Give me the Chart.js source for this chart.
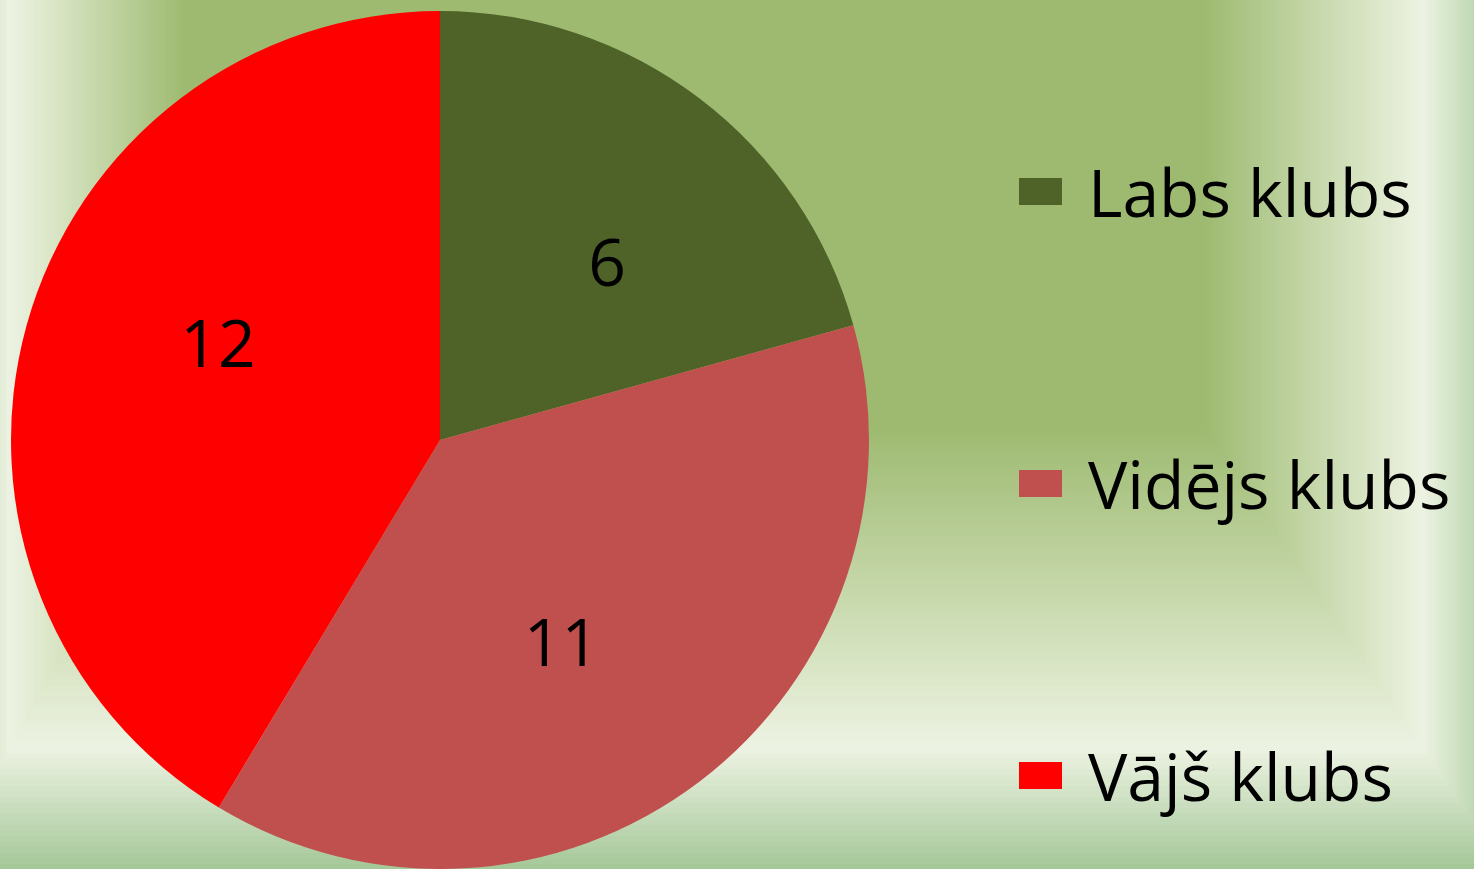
<!DOCTYPE html>
<html>
<head>
<meta charset="utf-8">
<script src="https://cdn.jsdelivr.net/npm/chart.js@4/dist/chart.umd.min.js"></script>
<style>
    html, body { margin: 0; padding: 0; overflow: hidden; }
    #wrap { position: relative; width: 1474px; height: 869px; }
    #pie { position: absolute; left: 0; top: 0; }
    #legend {
        position: absolute; left: 1019px; top: 45px;
        font-family: "Open Sans", sans-serif; font-size: 66px; color: #000;
    }
    .item { height: 292px; display: flex; align-items: center; white-space: nowrap; }
    .box { width: 43px; height: 27px; margin-right: 26px; flex: none; }
</style>
</head>
<body>
<div id="wrap">
    <canvas id="pie" width="1474" height="869"></canvas>
    <div id="legend"></div>
</div>
<script>
const labels = ['Labs klubs', 'Vidējs klubs', 'Vājš klubs'];
const values = [6, 11, 12];
const colors = ['#4F6228', '#C0504D', '#FF0000'];

// fons: taisnstūra gradients kā Office diagrammā
const bgPlugin = {
    id: 'bg',
    beforeDraw(chart) {
        const ctx = chart.ctx;
        const inner = { x0: 185, y0: -10, x1: 1205, y1: 430 };
        const outer = { x0: -60, y0: -200, x1: 1510, y1: 875 };
        const green = [157, 186, 112], light = [237, 243, 226], edge = [162, 198, 150];
        const mix = (a, b, k) => a.map((v, i) => Math.round(v + (b[i] - v) * k));
        const colorAt = t => t < 0.72 ? mix(green, light, t / 0.72) : mix(light, edge, (t - 0.72) / 0.28);
        const N = 80;
        ctx.save();
        for (let i = N; i >= 0; i--) {
            const t = i / N;
            const c = colorAt(t);
            const x0 = inner.x0 + (outer.x0 - inner.x0) * t;
            const y0 = inner.y0 + (outer.y0 - inner.y0) * t;
            const x1 = inner.x1 + (outer.x1 - inner.x1) * t;
            const y1 = inner.y1 + (outer.y1 - inner.y1) * t;
            ctx.fillStyle = `rgb(${c[0]},${c[1]},${c[2]})`;
            ctx.fillRect(x0, y0, x1 - x0, y1 - y0);
        }
        ctx.restore();
    }
};

// vērtību etiķetes sektoros
const valueLabels = {
    id: 'valueLabels',
    afterDatasetsDraw(chart) {
        const ctx = chart.ctx;
        const meta = chart.getDatasetMeta(0);
        ctx.save();
        ctx.font = '66px "Open Sans", sans-serif';
        ctx.fillStyle = '#000';
        ctx.textAlign = 'center';
        ctx.textBaseline = 'middle';
        meta.data.forEach((arc, i) => {
            const p = arc.getProps(['x', 'y', 'startAngle', 'endAngle', 'outerRadius'], true);
            const mid = (p.startAngle + p.endAngle) / 2 + 0.12;
            const r = p.outerRadius * 0.56;
            ctx.fillText(String(values[i]), p.x + Math.cos(mid) * r, p.y + Math.sin(mid) * r);
        });
        ctx.restore();
    }
};

new Chart(document.getElementById('pie'), {
    type: 'pie',
    data: {
        labels: labels,
        datasets: [{
            data: values,
            backgroundColor: colors,
            borderWidth: 0
        }]
    },
    options: {
        responsive: false,
        animation: false,
        layout: { padding: { left: 11, top: 11, right: 605, bottom: 0 } },
        plugins: {
            legend: { display: false },
            tooltip: { enabled: false }
        }
    },
    plugins: [bgPlugin, valueLabels]
});

const legendDiv = document.getElementById('legend');
labels.forEach((lab, i) => {
    const item = document.createElement('div');
    item.className = 'item';
    const box = document.createElement('span');
    box.className = 'box';
    box.style.background = colors[i];
    const txt = document.createElement('span');
    txt.textContent = lab;
    item.appendChild(box);
    item.appendChild(txt);
    legendDiv.appendChild(item);
});
</script>
</body>
</html>
